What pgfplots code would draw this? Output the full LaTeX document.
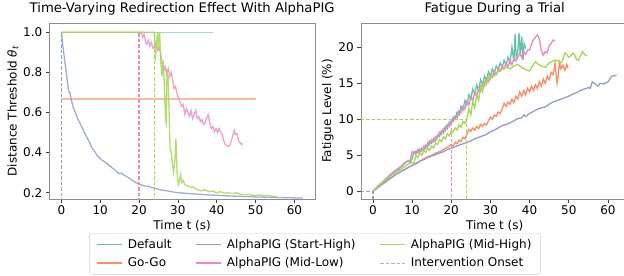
\documentclass[border=0pt]{standalone}
\usepackage{pgfplots}
\pgfplotsset{compat=1.18}
\usepackage{fontspec}
\setmainfont{DejaVu Sans}
\definecolor{cDef}{HTML}{66C2A5}
\definecolor{cGo}{HTML}{FC8D62}
\definecolor{cSH}{HTML}{8DA0CB}
\definecolor{cML}{HTML}{E78AC3}
\definecolor{cMH}{HTML}{A6D854}
\definecolor{cOn}{HTML}{B3B3B3}
\pgfplotsset{
  myaxis/.style={
    scale only axis,
    anchor=south west,
    height=176.6bp,
    font=\fontsize{12bp}{14bp}\selectfont,
    title style={font=\fontsize{13.2bp}{15bp}\selectfont, yshift=-2bp},
    /pgf/number format/assume math mode=true,
    axis line style={black!45},
    tick style={black!75, line width=0.6bp},
    tick align=outside,
    major tick length=3.5bp,
    xtick pos=bottom, ytick pos=left,
    xtick={0,10,...,60},
    xlabel={Time t (s)},
    xticklabel style={yshift=1bp},
    xlabel style={yshift=1bp},
    every axis plot/.append style={line width=1.3bp},
    clip=true,
  },
  onset/.style={dash pattern=on 3.5bp off 2bp, line width=1.2bp},
}
\begin{document}
\begin{tikzpicture}
\useasboundingbox (0,0) rectangle (624bp,-276bp);
% ---------------- Left panel ----------------
\begin{axis}[myaxis,
  at={(49.3bp,-199.3bp)}, width=265.7bp,
  xmin=-3.1, xmax=65.3, ymin=0.167, ymax=1.048,
  ytick={0.2,0.4,0.6,0.8,1.0},
  yticklabel style={/pgf/number format/fixed,/pgf/number format/fixed zerofill,/pgf/number format/precision=1},
  title={Time-Varying Redirection Effect With AlphaPIG},
  ylabel={Distance Threshold \textit{θ}\textsubscript{\textit{t}}},
  ylabel style={yshift=-2bp},
  legend columns=3,
  legend style={at={(axis description cs:1.0,-0.191)}, anchor=north,
    draw=black!20, rounded corners=2bp, font=\fontsize{12bp}{14bp}\selectfont,
    /tikz/every even column/.append style={column sep=22bp},
    /tikz/every odd column/.append style={column sep=3bp},
    row sep=4bp,
    inner xsep=7bp, inner ysep=4bp},
  legend cell align=left,
  legend image code/.code={\draw[#1] (0bp,0bp) -- (25bp,0bp);},
]
\addplot[cDef, opacity=0.6, forget plot] coordinates {(0,1.0)(39,1.0)};
\addplot[cGo, opacity=0.6, forget plot] coordinates {(0,0.667)(50,0.667)};
\addplot[cSH, opacity=0.85, forget plot] coordinates {
(0,1.0)(0.2,0.97)(0.4,0.93)(0.6,0.90)(0.8,0.87)(1.0,0.84)(1.2,0.81)(1.4,0.78)(1.6,0.75)(1.8,0.72)(2.0,0.70)(2.2,0.70)(2.4,0.68)(2.6,0.66)(2.8,0.645)(3.0,0.63)(3.3,0.615)(3.6,0.60)(4.0,0.58)(4.3,0.565)(4.6,0.555)(5.0,0.54)(5.3,0.525)(5.6,0.515)(6.0,0.50)(6.3,0.485)(6.6,0.475)(7.0,0.46)(7.3,0.45)(7.6,0.435)(8.0,0.42)(8.4,0.41)(8.8,0.40)(9.2,0.385)(9.6,0.378)(10.0,0.37)(10.5,0.362)(11.0,0.355)(11.5,0.35)(12.0,0.34)(12.5,0.334)(13.0,0.325)(13.5,0.318)(14.0,0.31)(14.5,0.30)(15.0,0.295)(15.5,0.298)(16.0,0.29)(16.5,0.284)(17.0,0.278)(17.5,0.272)(18.0,0.265)(18.5,0.258)(19.0,0.252)(19.5,0.247)(20,0.243)(21,0.236)(22,0.231)(22.5,0.233)(23,0.227)(24,0.222)(25,0.217)(26,0.213)(27,0.21)(28,0.206)(29,0.203)(30,0.2)(32,0.197)(34,0.194)(36,0.191)(38,0.189)(40,0.187)(43,0.184)(46,0.182)(50,0.179)(54,0.177)(58,0.175)(62.2,0.173)};
\addplot[cML, opacity=0.8, forget plot] coordinates {
(0,1)(20,1)(20.3,0.995)(20.6,1.0)(21.0,0.975)(21.3,0.99)(21.7,0.95)(22.0,0.94)(22.4,0.96)(22.8,0.93)(23.2,0.95)(23.6,0.92)(24.0,0.93)(24.4,0.95)(24.8,0.91)(25.2,0.92)(25.6,0.89)(26.0,0.84)(26.3,0.81)(26.7,0.83)(27.1,0.79)(27.5,0.82)(27.9,0.78)(28.3,0.80)(28.7,0.76)(29.0,0.72)(29.4,0.73)(29.8,0.69)(30.2,0.67)(30.6,0.65)(31.0,0.63)(31.4,0.64)(31.8,0.59)(32.2,0.62)(32.6,0.60)(33.0,0.58)(33.4,0.61)(33.8,0.57)(34.2,0.59)(34.6,0.61)(35.0,0.57)(35.4,0.58)(35.8,0.555)(36.2,0.565)(36.6,0.54)(37.0,0.55)(37.4,0.57)(37.8,0.59)(38.2,0.55)(38.6,0.52)(39.0,0.53)(39.4,0.505)(39.8,0.52)(40.2,0.50)(40.6,0.52)(41.0,0.50)(41.4,0.49)(41.8,0.46)(42.2,0.44)(42.6,0.435)(43.0,0.43)(43.4,0.44)(43.8,0.46)(44.2,0.49)(44.5,0.51)(44.8,0.49)(45.2,0.495)(45.6,0.46)(46.0,0.45)(46.4,0.44)(46.7,0.445)};
\addplot[cMH, opacity=0.85, forget plot] coordinates {
(0,1)(24,1)(24.2,0.86)(24.5,0.95)(24.8,1.0)(25.0,0.92)(25.3,1.0)(25.6,0.85)(25.9,0.78)(26.2,0.86)(26.5,0.75)(26.8,0.57)(27.0,0.55)(27.2,0.80)(27.5,0.78)(27.8,0.55)(28.0,0.42)(28.3,0.40)(28.6,0.34)(28.9,0.30)(29.2,0.35)(29.5,0.47)(29.8,0.30)(30.1,0.24)(30.4,0.26)(30.7,0.29)(31.0,0.25)(31.4,0.26)(31.8,0.24)(32.3,0.235)(33.0,0.23)(33.5,0.225)(34.0,0.23)(34.5,0.22)(35.0,0.215)(36,0.21)(37,0.215)(38,0.205)(39,0.208)(40,0.2)(41,0.205)(42,0.198)(43,0.2)(44,0.196)(45,0.2)(46,0.193)(47,0.19)(48,0.192)(49,0.188)(50,0.186)(51,0.189)(52,0.184)(53,0.187)(54,0.183)(55,0.182)(55.4,0.183)};
\addplot[cSH, onset, forget plot] coordinates {(0,0.1)(0,1.0)};
\addplot[cML, onset, forget plot] coordinates {(20,0.1)(20,1.0)};
\addplot[cMH, onset, forget plot] coordinates {(23.9,0.1)(23.9,1.0)};
\addlegendimage{cDef}
\addlegendentry{Default}
\addlegendimage{cSH}
\addlegendentry{AlphaPIG (Start-High)}
\addlegendimage{cMH}
\addlegendentry{AlphaPIG (Mid-High)}
\addlegendimage{cGo}
\addlegendentry{Go-Go}
\addlegendimage{cML}
\addlegendentry{AlphaPIG (Mid-Low)}
\addlegendimage{cOn, onset}
\addlegendentry{Intervention Onset}
\end{axis}
% ---------------- Right panel ----------------
\begin{axis}[myaxis,
  at={(360.7bp,-199.3bp)}, width=268bp,
  xmin=-3.1, xmax=65.3, ymin=-1.1, ymax=23.4,
  ytick={0,5,10,15,20},
  title={Fatigue During a Trial},
  ylabel={Fatigue Level (\%)},
  ylabel style={yshift=-2bp},
]
\addplot[cDef] coordinates {
(0,0)(1,0.5)(2,1.0)(3,1.5)(4,2.0)(5,2.5)(6,2.8)(7,3.3)(8,3.8)(9,4.3)(9.5,4.0)(10,4.5)(10.5,5.5)(11,5.2)(11.5,5.8)(12,5.4)(12.5,6.0)(13,5.7)(13.5,6.4)(14,6.2)(14.5,7.0)(15,6.7)(15.5,7.3)(16,7.0)(16.5,7.8)(17,7.6)(17.5,8.4)(18,8.1)(18.5,9.0)(19,8.7)(19.5,9.6)(20,9.3)(20.5,10.3)(21,10.0)(21.5,11.0)(22,10.6)(22.5,11.8)(23,11.3)(23.5,12.6)(24,12.0)(24.5,13.4)(25,12.8)(25.5,14.2)(26,13.5)(26.5,14.8)(27,14.0)(27.5,15.5)(28,14.8)(28.5,16.0)(29,15.4)(29.5,16.6)(30,16.0)(30.5,17.0)(31,16.4)(31.5,17.4)(32,16.9)(32.5,17.8)(33,17.2)(33.5,18.2)(34,17.5)(34.5,18.6)(35,17.8)(35.5,20.0)(36,18.0)(36.3,21.8)(36.6,18.5)(37,19.5)(37.3,22.0)(37.6,19.0)(38,21.5)(38.3,18.2)(38.6,20.5)(39,19.8)};
\addplot[cGo] coordinates {
(0,0)(1,0.4)(2,0.9)(3,1.3)(4,1.7)(5,2.0)(6,2.4)(7,2.7)(8,3.0)(9,3.3)(10,3.6)(11,3.9)(12,4.2)(13,4.5)(14,4.8)(15,5.0)(16,5.3)(17,5.5)(18,5.8)(19,6.1)(20,6.5)(20.5,6.3)(21,6.8)(21.5,6.6)(22,7.1)(22.5,6.9)(23,7.5)(23.5,7.3)(24,7.9)(24.5,8.6)(25,8.3)(25.5,8.8)(26,8.5)(26.5,9.0)(27,8.7)(27.5,9.3)(28,9.0)(28.5,9.4)(29,9.2)(29.5,9.8)(30,10.3)(30.5,10.0)(31,10.6)(31.5,10.4)(32,11.0)(32.5,10.8)(33,11.4)(33.5,12.2)(34,11.8)(34.5,12.4)(35,12.1)(35.5,12.8)(36,12.3)(36.5,13.2)(37,12.8)(37.5,13.8)(38,13.2)(38.5,14.0)(39,13.4)(39.5,14.3)(40,13.8)(40.5,14.6)(41,14.0)(41.5,14.8)(42,14.3)(42.5,15.2)(43,14.6)(43.5,15.6)(44,15.0)(44.5,16.0)(45,15.5)(45.5,16.5)(46,16.2)(46.5,17.8)(47,15.0)(47.3,16.0)(47.6,17.9)(48,17.0)(48.5,17.5)(49,16.8)(49.5,17.6)(49.8,17.1)};
\addplot[cSH] coordinates {
(0,0)(2,0.8)(4,1.6)(6,2.4)(8,3.0)(10,3.6)(11,3.8)(12,4.2)(13,4.4)(14,4.7)(15,4.9)(16,5.1)(17,5.3)(18,5.5)(19,5.8)(20,6.0)(21,6.2)(22,6.4)(23,6.6)(24,6.8)(25,7.0)(26,7.3)(27,7.5)(28,7.7)(29,7.9)(30,8.3)(31,8.5)(32,8.8)(33,9.1)(34,9.3)(35,9.5)(36,9.8)(37,10.1)(38,10.2)(38.5,10.6)(39,10.4)(40,10.8)(41,11.1)(42,11.4)(43,11.6)(44,11.7)(45,12.1)(46,12.4)(47,12.6)(48,12.8)(49,13.0)(50,13.2)(51,13.5)(52,13.7)(53,14.0)(54,14.2)(55,14.4)(55.5,14.3)(56,15.2)(56.5,15.0)(57,14.8)(57.5,14.6)(58,15.0)(59,14.9)(60,15.2)(60.5,15.6)(61,16.0)(62.2,16.1)};
\addplot[cML] coordinates {
(0,0)(1,0.6)(2,1.1)(3,1.6)(4,2.1)(5,2.6)(6,3.0)(7,3.4)(8,3.9)(9,4.3)(9.5,4.2)(10,5.5)(10.5,5.2)(11,5.6)(11.5,5.3)(12,5.9)(12.5,5.6)(13,6.3)(13.5,6.0)(14,6.8)(14.5,6.5)(15,7.2)(15.5,6.9)(16,7.6)(16.5,7.4)(17,8.2)(17.5,7.9)(18,8.7)(18.5,8.4)(19,9.3)(19.5,9.0)(20,9.9)(20.5,9.7)(21,10.5)(21.5,10.2)(22,11.2)(22.5,10.9)(23,11.8)(23.5,11.4)(24,12.5)(24.5,12.0)(25,13.1)(25.5,12.6)(26,13.7)(26.5,13.2)(27,14.3)(27.5,13.9)(28,15.0)(28.5,14.6)(29,15.6)(29.5,15.2)(30,16.2)(30.5,15.8)(31,16.6)(31.5,16.2)(32,17.1)(32.5,16.7)(33,17.4)(33.5,17.0)(34,17.8)(34.5,17.3)(35,18.2)(35.5,17.6)(36,18.4)(36.5,18.1)(37,18.6)(37.5,19.2)(38,18.6)(38.5,19.4)(39,19.0)(39.5,19.6)(40,19.6)(40.5,20.5)(41,21.0)(41.5,21.4)(42,21.7)(42.5,21.2)(43,19.5)(43.5,18.9)(44,19.4)(44.5,19.2)(45,20.2)(45.5,20.5)(46,21.0)(46.5,20.9)};
\addplot[cMH] coordinates {
(0,0)(1,0.5)(2,1.0)(3,1.5)(4,1.9)(5,2.3)(6,2.7)(7,3.0)(8,3.4)(9,3.8)(10,4.0)(10.5,3.9)(11,5.0)(11.5,4.7)(12,5.3)(12.5,5.0)(13,5.6)(13.5,5.4)(14,6.0)(14.5,5.7)(15,6.3)(15.5,6.0)(16,6.7)(16.5,6.5)(17,7.2)(17.5,6.9)(18,7.6)(18.5,7.3)(19,8.0)(19.5,7.7)(20,8.4)(20.5,8.2)(21,8.8)(21.5,8.5)(22,9.2)(22.5,8.9)(23,9.7)(23.5,9.4)(24,10.0)(24.5,11.5)(25,10.6)(25.5,12.5)(26,11.6)(26.5,13.4)(27,12.6)(27.5,14.6)(28,13.8)(28.5,15.2)(29,14.8)(29.5,15.9)(30,15.5)(30.5,16.3)(31,16.0)(32,16.6)(33,16.9)(34,17.2)(35,17.0)(36,17.4)(37,17.6)(38,17.2)(39,16.9)(40,16.7)(40.5,17.2)(41,17.6)(41.5,18.0)(42,17.7)(43,17.4)(44,17.2)(45,17.8)(46,18.1)(47,18.2)(48,17.8)(48.5,18.3)(49,19.2)(49.5,19.0)(50,18.6)(50.5,18.8)(51,19.2)(51.5,18.9)(52,18.3)(52.5,18.2)(53,18.8)(53.5,19.4)(54,19.0)(54.7,18.8)};
\addplot[draw=cSH, dash pattern=on 3.5bp off 2bp, line width=1.3bp] coordinates {(-3.1,0)(0,0)(0,-1.1)};
\addplot[draw=cML, dash pattern=on 3.5bp off 2bp, line width=1.3bp] coordinates {(-3.1,10)(20,10)(20,-1.1)};
\addplot[draw=cMH, dash pattern=on 3.5bp off 2bp, line width=1.3bp] coordinates {(-3.1,10)(23.9,10)(23.9,-1.1)};
\end{axis}
\end{tikzpicture}
\end{document}
